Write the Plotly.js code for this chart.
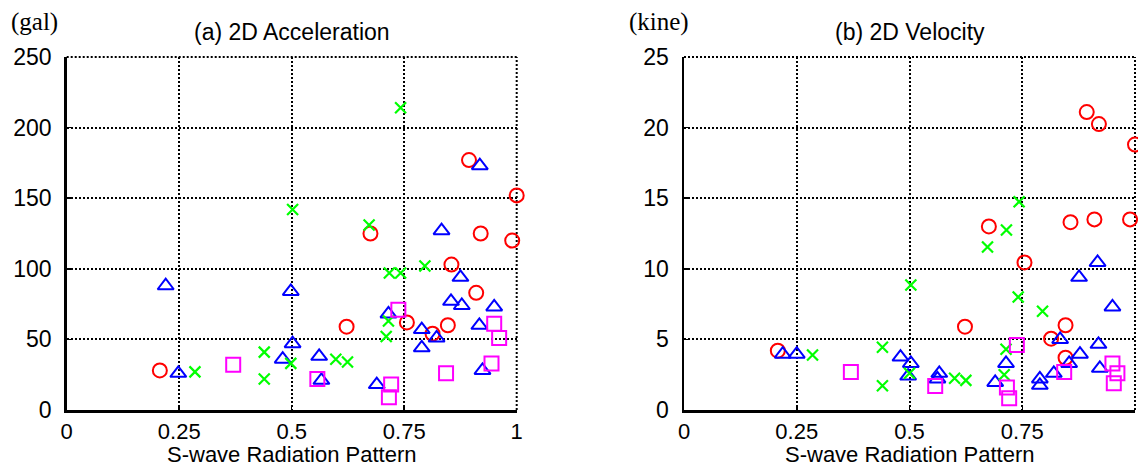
<!DOCTYPE html>
<html>
<head>
<meta charset="utf-8">
<script src="https://cdn.plot.ly/plotly-3.0.1.min.js"></script>
<style>html,body{margin:0;padding:0;background:#fff;}#chart{width:1138px;height:468px;}</style>
</head>
<body>
<div id="chart"></div>
<script>
// ---- (a) 2D Acceleration (gal) ----
var accCircleX = [0.207, 0.675, 0.894, 1.0, 0.92, 0.99, 0.855, 0.91, 0.622, 0.756, 0.847, 0.813];
var accCircleY = [28, 125, 177, 152, 125, 120, 103, 83, 59, 62, 60, 54];
var accTriX = [0.22, 0.248, 0.498, 0.502, 0.48, 0.561, 0.566, 0.689, 0.715, 0.789, 0.789, 0.822, 0.854, 0.878, 0.875, 0.95, 0.917, 0.924, 0.918, 0.833];
var accTriY = [88, 26, 84, 47, 36, 38, 21, 18, 68, 57, 44, 51, 77, 74, 94, 73, 60, 28, 173, 127];
var accCrossX = [0.502, 0.742, 0.672, 0.285, 0.439, 0.439, 0.498, 0.598, 0.624, 0.715, 0.71, 0.717, 0.742, 0.796];
var accCrossY = [142, 214, 131, 27, 41, 22, 33, 36, 34, 63, 52, 97, 97, 102];
var accSqX = [0.37, 0.557, 0.721, 0.716, 0.737, 0.843, 0.95, 0.961, 0.944];
var accSqY = [32, 22, 18, 9, 71, 26, 61, 51, 33];

// ---- (b) 2D Velocity (kine) ----
var velCircleX = [0.208, 0.893, 0.92, 1.0, 0.676, 0.857, 0.91, 0.989, 0.755, 0.623, 0.846, 0.814, 0.846];
var velCircleY = [4.2, 21.1, 20.25, 18.8, 13.0, 13.3, 13.5, 13.5, 10.45, 5.9, 6.0, 5.05, 3.7];
var velTriX = [0.219, 0.25, 0.48, 0.503, 0.497, 0.566, 0.562, 0.69, 0.714, 0.789, 0.789, 0.82, 0.834, 0.854, 0.878, 0.876, 0.917, 0.95, 0.919, 0.922];
var velTriY = [3.95, 3.95, 3.75, 3.3, 2.4, 2.6, 2.2, 1.95, 3.3, 2.2, 1.75, 2.6, 5.0, 3.3, 3.95, 9.4, 10.45, 7.3, 4.65, 2.95];
var velCrossX = [0.743, 0.715, 0.673, 0.285, 0.44, 0.44, 0.503, 0.5, 0.6, 0.625, 0.71, 0.714, 0.741, 0.795];
var velCrossY = [14.75, 12.75, 11.55, 3.9, 4.45, 1.72, 8.85, 2.6, 2.25, 2.1, 2.5, 4.3, 8.0, 7.0];
var velSqX = [0.37, 0.557, 0.716, 0.721, 0.738, 0.843, 0.95, 0.961, 0.953];
var velSqY = [2.7, 1.7, 1.6, 0.83, 4.6, 2.7, 3.3, 2.6, 1.9];

var xTickVals = [0, 0.25, 0.5, 0.75, 1];
var xTickText = ['0', '0.25', '0.5', '0.75', '1'];
var accTickVals = [0, 50, 100, 150, 200, 250];
var velTickVals = [0, 5, 10, 15, 20, 25];

var styles = {
  circle: {symbol: 'circle-open', size: 14, color: '#ff0000', line: {width: 2, color: '#ff0000'}},
  tri: {symbol: 'triangle-up-open', size: 14, color: '#0000ff', line: {width: 2, color: '#0000ff'}},
  cross: {symbol: 'x-thin-open', size: 11, color: '#00ff00', line: {width: 2.2, color: '#00ff00'}},
  sq: {symbol: 'square-open', size: 14, color: '#ff00ff', line: {width: 2, color: '#ff00ff'}}
};

function tr(x, y, st, xa, ya) {
  return {x: x, y: y, type: 'scatter', mode: 'markers', marker: st, xaxis: xa, yaxis: ya,
          cliponaxis: false, showlegend: false, hoverinfo: 'skip'};
}

var data = [
  tr(accCircleX, accCircleY, styles.circle, 'x', 'y'),
  tr(accTriX, accTriY, styles.tri, 'x', 'y'),
  tr(accCrossX, accCrossY, styles.cross, 'x', 'y'),
  tr(accSqX, accSqY, styles.sq, 'x', 'y'),
  tr(velCircleX, velCircleY, styles.circle, 'x2', 'y2'),
  tr(velTriX, velTriY, styles.tri, 'x2', 'y2'),
  tr(velCrossX, velCrossY, styles.cross, 'x2', 'y2'),
  tr(velSqX, velSqY, styles.sq, 'x2', 'y2')
];

var FONT = 'Liberation Sans, Arial, sans-serif';
var SERIF = 'Liberation Serif, Times New Roman, serif';
var GRIDDASH = '2px,2px';

function xAxis(domain, anchor) {
  return {
    domain: domain, anchor: anchor, range: [0, 1], fixedrange: true,
    tickmode: 'array', tickvals: xTickVals, ticktext: xTickText,
    showline: true, linecolor: '#000', linewidth: 2.5, mirror: false,
    ticks: 'inside', ticklen: 5, tickwidth: 1.5, tickcolor: '#000',
    showgrid: true, gridcolor: '#000', gridwidth: 2, griddash: GRIDDASH,
    zeroline: false, ticklabelstandoff: 0,
    tickfont: {family: FONT, size: 22, color: '#000'}
  };
}
function yAxis(domain, anchor, rng, tv) {
  return {
    domain: domain, anchor: anchor, range: rng, fixedrange: true,
    tickmode: 'array', tickvals: tv,
    showline: true, linecolor: '#000', linewidth: 2.5, mirror: false,
    ticks: 'inside', ticklen: 5, tickwidth: 1.5, tickcolor: '#000',
    showgrid: true, gridcolor: '#000', gridwidth: 2, griddash: GRIDDASH,
    zeroline: false, ticklabelstandoff: 8,
    tickfont: {family: FONT, size: 23, color: '#000'}
  };
}

function frame(xa, ya) {
  var ln = {color: '#000', width: 2, dash: GRIDDASH};
  return [
    {type: 'line', xref: xa + ' domain', yref: ya + ' domain', x0: 0, x1: 1, y0: 1, y1: 1, line: ln, layer: 'below'},
    {type: 'line', xref: xa + ' domain', yref: ya + ' domain', x0: 1, x1: 1, y0: 0, y1: 1, line: ln, layer: 'below'}
  ];
}

function txt(s, xpx, ypx, fam, size) {
  return {text: s, xref: 'paper', yref: 'paper', x: xpx / 1138, y: 1 - ypx / 468,
          xanchor: 'center', yanchor: 'middle', showarrow: false, borderpad: 0,
          font: {family: fam, size: size, color: '#000'}};
}

var yDom = [1 - 410 / 468, 1 - 57 / 468];
var layout = {
  width: 1138, height: 468,
  margin: {l: 0, r: 0, t: 0, b: 0},
  paper_bgcolor: '#fff', plot_bgcolor: '#fff',
  showlegend: false,
  xaxis: xAxis([66.7 / 1138, 516.7 / 1138], 'y'),
  yaxis: yAxis(yDom, 'x', [0, 250], accTickVals),
  xaxis2: xAxis([684 / 1138, 1135 / 1138], 'y2'),
  yaxis2: yAxis(yDom, 'x2', [0, 25], velTickVals),
  shapes: frame('x', 'y').concat(frame('x2', 'y2')),
  annotations: [
    txt('(a) 2D Acceleration', 291.7, 32, FONT, 23),
    txt('(b) 2D Velocity', 909.5, 32, FONT, 23),
    txt('S-wave Radiation Pattern', 291.7, 454, FONT, 22),
    txt('S-wave Radiation Pattern', 909.5, 454, FONT, 22),
    txt('(gal)', 34, 22, SERIF, 25),
    txt('(kine)', 659, 22, SERIF, 25)
  ]
};

Plotly.newPlot('chart', data, layout, {staticPlot: true, displayModeBar: false});
</script>
</body>
</html>
